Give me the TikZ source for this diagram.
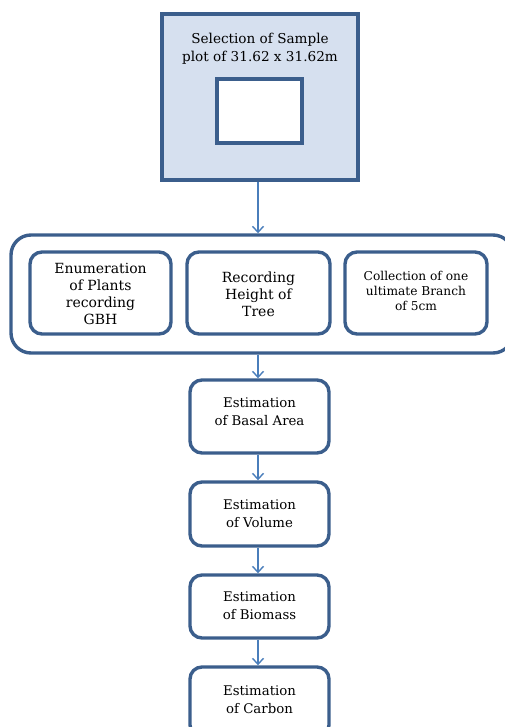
\documentclass[tikz,border=0pt]{standalone}
\usepackage{fontspec}
\setmainfont{DejaVu Serif}
\usetikzlibrary{arrows.meta}
\definecolor{bord}{HTML}{3B5E8C}
\definecolor{fillb}{HTML}{D6E0EF}
\definecolor{arr}{HTML}{4A7EBB}
\tikzset{
  x=1pt,y=-1pt,
  box/.style={draw=bord,line width=3.4pt,rounded corners=12pt,fill=white,inner sep=0pt},
  txt/.style={align=center,font=\fontsize{13.3}{18}\selectfont},
  conn/.style={draw=arr,line width=1.4pt,-{Straight Barb[length=6pt,width=11pt,line width=1.4pt]}}
}
\begin{document}
\begin{tikzpicture}
\useasboundingbox (0,0) rectangle (504,727);
% top box
\node[draw=bord,fill=fillb,line width=3.6pt,minimum width=196pt,minimum height=166pt,inner sep=0pt] (top) at (260,97) {};
\node[align=center,font=\fontsize{13.6}{18}\selectfont] (toptxt) at (260,49) {Selection of Sample\\plot of 31.62 x 31.62m};
\node[draw=bord,fill=white,line width=3.6pt,minimum width=85pt,minimum height=64pt,inner sep=0pt] (inner) at (259.5,111) {};
% group box
\node[draw=bord,line width=3.4pt,rounded corners=20pt,minimum width=502pt,minimum height=118pt,inner sep=0pt] (grp) at (262,294) {};
\node[box,minimum width=141pt,minimum height=82pt] (b1) at (100.5,293) {};
\node[align=center,font=\fontsize{14}{17.2}\selectfont] (t1) at (100.5,294) {Enumeration\\of Plants\\recording\\GBH};
\node[box,minimum width=143pt,minimum height=82pt] (b2) at (258.5,293) {};
\node[align=center,font=\fontsize{14}{17.2}\selectfont] (t2) at (258.5,294) {Recording\\Height of\\Tree};
\node[box,minimum width=142pt,minimum height=82pt] (b3) at (416,293) {};
\node[align=center,font=\fontsize{12.2}{15.2}\selectfont] (t3) at (416,291) {Collection of one\\ultimate Branch\\of 5cm};
% estimation boxes
\node[box,minimum width=139pt,minimum height=73pt] (e1) at (259.5,416.5) {};
\node[txt] (t5) at (259.5,412) {Estimation\\of Basal Area};
\node[box,minimum width=139pt,minimum height=64pt] (e2) at (259.5,514) {};
\node[txt] (t6) at (259.5,514) {Estimation\\of Volume};
\node[box,minimum width=139pt,minimum height=63pt] (e3) at (259.5,606.5) {};
\node[txt] (t7) at (259.5,606) {Estimation\\of Biomass};
\node[box,minimum width=139pt,minimum height=70pt] (e4) at (259.5,702) {};
\node[txt] (t4) at (259.5,700) {Estimation\\of Carbon};
% connectors
\draw[conn] (top.south -| 258,0) -- (grp.north -| 258,0);
\draw[conn] (grp.south -| 258,0) -- (e1.north -| 258,0);
\draw[conn] (e1.south -| 258,0) -- (e2.north -| 258,0);
\draw[conn] (e2.south -| 258,0) -- (e3.north -| 258,0);
\draw[conn] (e3.south -| 258,0) -- (e4.north -| 258,0);
\end{tikzpicture}
\end{document}
